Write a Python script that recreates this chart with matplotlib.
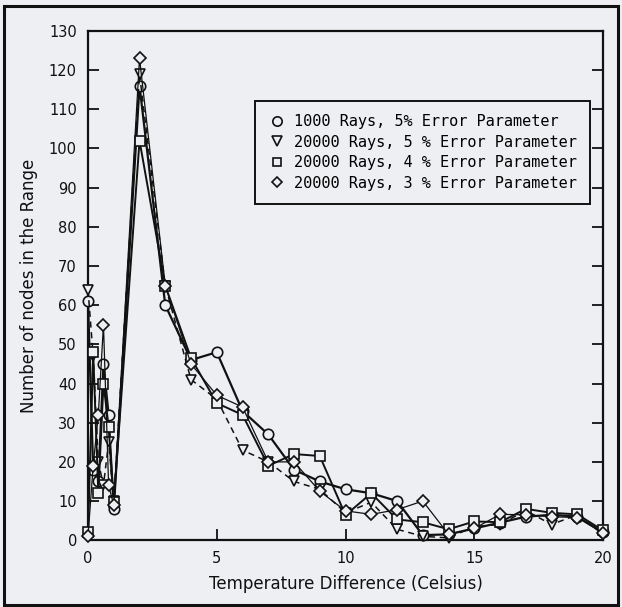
import matplotlib
matplotlib.use("Agg")
import matplotlib.pyplot as plt
from matplotlib.patches import Rectangle

# Temperature difference (Celsius) at which the nodes were counted
temp_diff = [0, 0.2, 0.4, 0.6, 0.8, 1, 2, 3, 4, 5, 6, 7, 8, 9, 10,
             11, 12, 13, 14, 15, 16, 17, 18, 19, 20]

# Number of nodes in the range for each ray-tracing setting
rays1000_err5 = [61, 18, 15, 45, 32, 8, 116, 60, 46, 48, 33, 27, 18, 15, 13,
                 12, 10, 1.3, 1.5, 3, 4.5, 6, 6.5, 6, 2]
rays20000_err5 = [64, 47, 20, 14, 25, 10, 119, 65, 41, 36, 23, 20, 15, 13, 7,
                  9.7, 2.8, 1, 0.6, 3.5, 4, 7.6, 4, 6.5, 1.5]
rays20000_err4 = [2, 48, 12, 40, 29, 9.7, 102, 65, 46.5, 35, 32, 19, 22, 21.5, 6.4,
                  12, 5.3, 4.6, 2.8, 4.8, 4.6, 8, 7, 6.6, 2.5]
rays20000_err3 = [1, 19, 32, 55, 14, 9, 123, 65, 45, 37, 34, 20, 20, 12.5, 7.5,
                  6.6, 7.8, 10, 1.5, 3, 6.6, 6.5, 6, 5.8, 1.8]

labels = ["1000 Rays, 5% Error Parameter",
          "20000 Rays, 5 % Error Parameter",
          "20000 Rays, 4 % Error Parameter",
          "20000 Rays, 3 % Error Parameter"]

y_ticks = list(range(0, 131, 10))
x_ticks = [0, 5, 10, 15, 20]

bg = "#eeeff3"
ink = "#111111"

fig = plt.figure(figsize=(6.22, 6.07), dpi=100, facecolor=bg)
ax = fig.add_axes([0.1415, 0.110, 0.828, 0.839], facecolor=bg)

series = [
    (rays1000_err5, "o", "-", 1.6, 7.5),
    (rays20000_err5, "v", (0, (4, 3)), 1.1, 7.5),
    (rays20000_err4, "s", "-", 1.4, 7.0),
    (rays20000_err3, "D", "-", 0.9, 6.0),
]
for (vals, mk, ls, lw, ms), lab in zip(series, labels):
    ax.plot(temp_diff, vals, marker=mk, linestyle=ls, linewidth=lw, color=ink,
            markersize=ms, markerfacecolor=bg, markeredgecolor=ink,
            markeredgewidth=1.2, label=lab, clip_on=False, zorder=3)

ax.set_xlim(0, 20)
ax.set_ylim(0, 130)
ax.set_xticks(x_ticks)
ax.set_yticks(y_ticks)
ax.tick_params(axis="both", direction="in", length=8, width=1.3,
               labelsize=10.5, colors=ink, pad=8)
ax.tick_params(axis="y", right=True, left=True, labelright=False)
ax.tick_params(axis="x", top=False)
for sp in ax.spines.values():
    sp.set_linewidth(1.6)
    sp.set_color(ink)

ax.set_xlabel("Temperature Difference (Celsius)", fontsize=12,
              fontweight="medium", color=ink, labelpad=6)
ax.set_ylabel("Number of nodes in the Range", fontsize=12,
              fontweight="medium", color=ink, labelpad=8)

leg = ax.legend(loc="upper left", bbox_to_anchor=(0.31, 0.878),
                prop={"family": "DejaVu Sans Mono", "size": 11},
                frameon=True, fancybox=False, edgecolor=ink, facecolor=bg,
                framealpha=1, labelspacing=0.35, handlelength=1.0,
                handletextpad=0.6, borderpad=0.9, markerscale=0.9)
leg.get_frame().set_linewidth(1.4)
for h in leg.get_lines():
    h.set_linestyle("none")

# outer frame around the whole figure
fig.patches.append(Rectangle((0.006, 0.004), 0.988, 0.986,
                             transform=fig.transFigure, fill=False,
                             edgecolor=ink, linewidth=2.2))

fig.savefig("out.png", dpi=100, facecolor=bg)
